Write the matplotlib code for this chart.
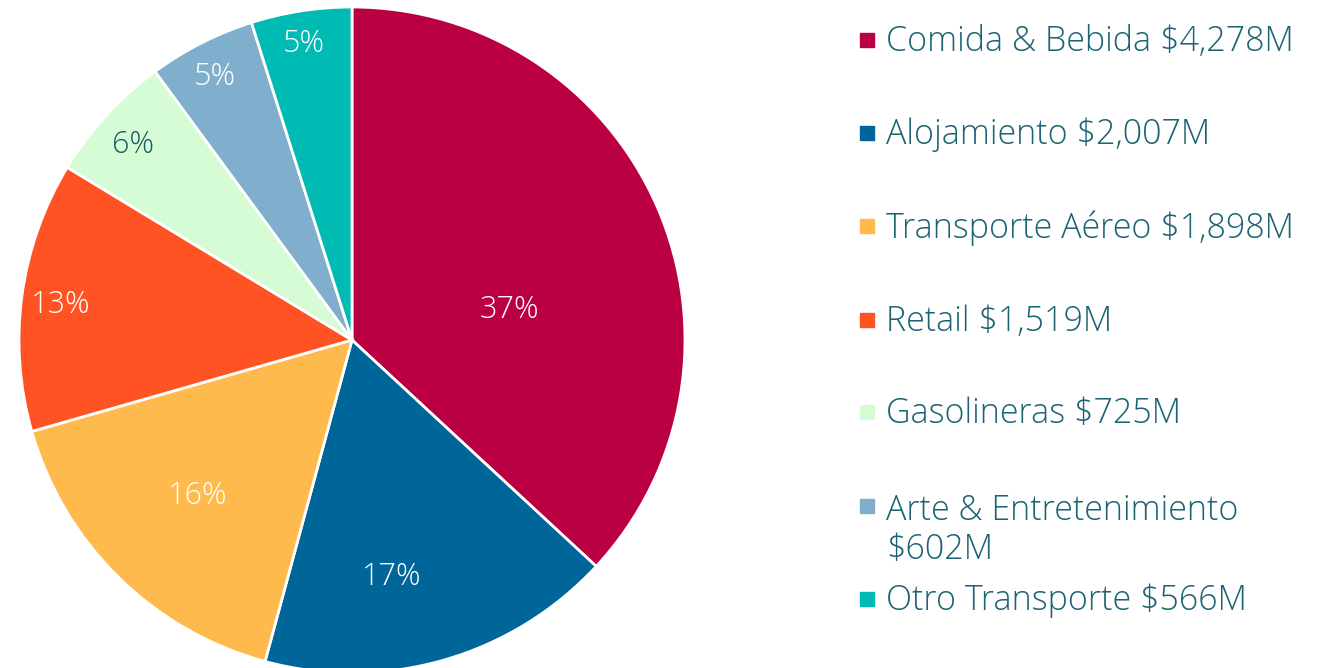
import matplotlib.pyplot as plt
import numpy as np
from matplotlib.patches import Rectangle

categories = ["Comida & Bebida", "Alojamiento", "Transporte Aéreo", "Retail",
              "Gasolineras", "Arte & Entretenimiento", "Otro Transporte"]
values = [4278, 2007, 1898, 1519, 725, 602, 566]
legend_labels = ["Comida & Bebida $4,278M", "Alojamiento $2,007M",
                 "Transporte Aéreo $1,898M", "Retail $1,519M",
                 "Gasolineras $725M", "Arte & Entretenimiento\n$602M",
                 "Otro Transporte $566M"]
colors = ["#BA0043", "#006699", "#FFBA4D", "#FF5323", "#D5FCD5", "#80AFCD", "#00BAB4"]
pct_colors = ["white", "white", "white", "white", "#1C5A66", "white", "white"]

# where the percent labels sit (radius fraction, angle shift in degrees)
label_dist = [0.48, 0.72, 0.66, 0.88, 0.88, 0.89, 0.90]
label_shift = [-12.8, -6.6, 0, 0.8, 0.7, 0.7, 0.5]

plt.rcParams['font.family'] = ['Open Sans', 'DejaVu Sans']
text_color = "#1C6474"

fig = plt.figure(figsize=(13.29, 6.68), dpi=100)
W, H = 1329, 668
cx, cy, r = 352, 340, 333
ax = fig.add_axes([(cx - r) / W, (H - cy - r) / H, 2 * r / W, 2 * r / H])
wedges, _ = ax.pie(values, colors=colors, startangle=90, counterclock=False,
                   radius=1, wedgeprops=dict(edgecolor="white", linewidth=2))
ax.set_xlim(-1, 1)
ax.set_ylim(-1, 1)
ax.set_aspect("equal")
ax.axis("off")

total = sum(values)
for w, v, d, s, c in zip(wedges, values, label_dist, label_shift, pct_colors):
    ang = np.deg2rad((w.theta1 + w.theta2) / 2 + s)
    ax.text(d * np.cos(ang), d * np.sin(ang), f"{v / total * 100:.0f}%",
            ha="center", va="center", color=c, fontsize=22, fontweight="light")

# legend drawn by hand to follow the original spacing
rows_y = [40, 133, 226, 320, 412, 506, 599]
for lab, col, y in zip(legend_labels, colors, rows_y):
    fig.patches.append(Rectangle((860 / W, 1 - (y + 7) / H), 14 / W, 14 / H,
                                 transform=fig.transFigure, color=col))
    if "\n" in lab:
        fig.text(886 / W, 1 - (y - 13) / H, lab, ha="left", va="top",
                 color=text_color, fontsize=24.5, fontweight="light", linespacing=1.17)
    else:
        fig.text(886 / W, 1 - (y + 2) / H, lab, ha="left", va="center",
                 color=text_color, fontsize=24.5, fontweight="light")

fig.savefig("out.png", dpi=100)
